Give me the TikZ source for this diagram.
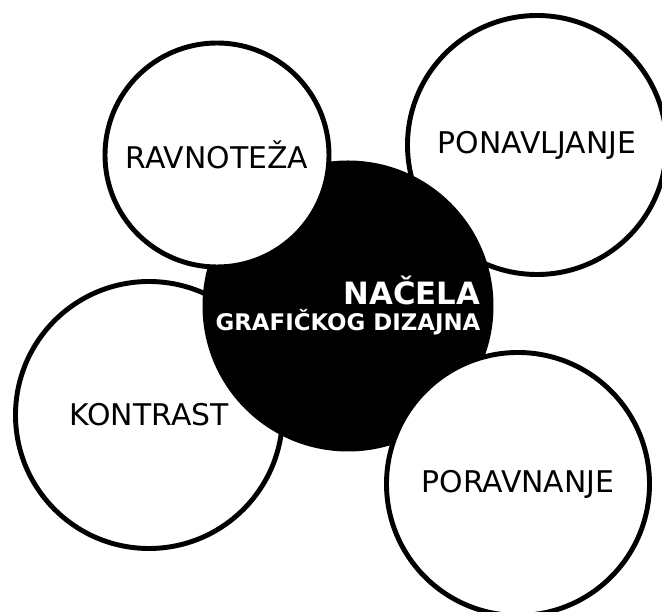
\documentclass[tikz,border=0pt]{standalone}
\usepackage{fontspec}
\setmainfont{DejaVu Sans}
\tikzset{
  every picture/.style={line join=round, line cap=round},
  topic/.style={circle, draw=black, fill=white, line width=2.8pt, inner sep=0pt, font=\fontsize{17}{20}\selectfont},
  core/.style={circle, fill=black, text=white, inner sep=0pt, align=right, font=\bfseries},
}
\begin{document}
\begin{tikzpicture}
\clip (0.000,0.000) rectangle (13.240,12.240);
\node[topic,minimum size=5.180cm] (ponavljanje) at (10.740,9.340) {PONAVLJANJE};
\node[topic,minimum size=5.340cm] (kontrast) at (2.980,3.940) {KONTRAST};
\node[core,minimum size=5.820cm] (nacela) at (6.960,6.120) {\fontsize{17.5}{20}\selectfont NAČELA\\[1.5pt]\fontsize{13}{16}\selectfont GRAFIČKOG DIZAJNA};
\node[topic,minimum size=4.480cm] (ravnoteza) at (4.340,9.140) {RAVNOTEŽA};
\node[topic,minimum size=5.260cm] (poravnanje) at (10.360,2.560) {PORAVNANJE};
\end{tikzpicture}
\end{document}
